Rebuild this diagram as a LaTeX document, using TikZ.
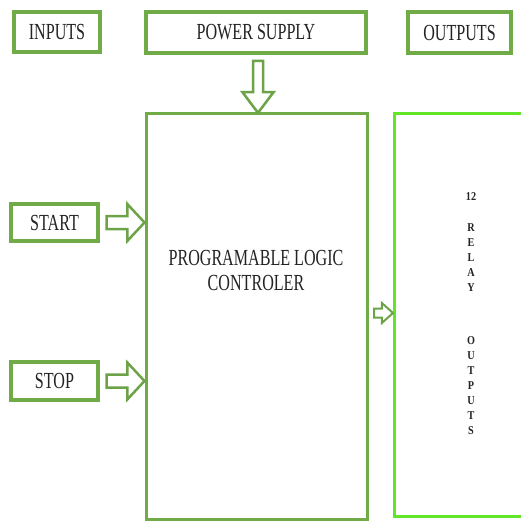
\documentclass[tikz,border=0pt]{standalone}
\usepackage{fontspec}
\setmainfont{Liberation Serif}
\newfontfamily\boxfont[FakeStretch=0.7]{Liberation Serif}
\newfontfamily\relayfont[FakeStretch=0.85]{Liberation Serif}
\usetikzlibrary{shapes.arrows,positioning}
\definecolor{boxgreen}{RGB}{112,171,72}
\definecolor{arrowgreen}{RGB}{108,163,72}
\definecolor{relaygreen}{RGB}{98,230,40}
\definecolor{labelgray}{RGB}{35,35,35}

\begin{document}
\begin{tikzpicture}[
    x=1pt, y=-1pt,
    box/.style={rectangle, draw=boxgreen, line width=4, fill=white, inner sep=0, align=center, text=labelgray, font=\boxfont\fontsize{23}{25}\selectfont},
    plcbox/.style={rectangle, draw=boxgreen, line width=3, inner sep=0},
    relaybox/.style={rectangle, draw=relaygreen, line width=3, inner sep=0},
    plctext/.style={align=center, inner sep=0, text=labelgray, font=\boxfont\fontsize{23}{25}\selectfont},
    relaytext/.style={align=center, inner sep=0, text=labelgray, font=\relayfont\bfseries\fontsize{12}{15}\selectfont},
    blockarrow/.style={single arrow, draw=arrowgreen, fill=white, line width=2.5, inner xsep=0}
]
\clip (0,0) rectangle (521,522);

% Top row
\node[box, minimum width=86, minimum height=40] (inputs) at (57,32) {INPUTS};
\node[box, minimum width=220, minimum height=41] (power) at (256,32.5) {POWER SUPPLY};
\node[box, minimum width=103, minimum height=41] (outputs) at (459.5,32.5) {OUTPUTS};

% Controller and relay block
\node[plcbox, minimum width=221, minimum height=406] (plc) at (257,316.5) {};
\node[plctext] (plclabel) at (256,270.5) {PROGRAMABLE LOGIC\\CONTROLER};
\node[relaybox, minimum width=145.5, minimum height=403] (relay) at (467.25,315) {};
\node[relaytext, anchor=north] (relaylabel) at (471,192.8) {12\\[16pt]R\\E\\L\\A\\Y\\[38pt]O\\U\\T\\P\\U\\T\\S};

% Input switches
\node[box, minimum width=87, minimum height=37] (start) at (54.5,222.5) {START};
\node[box, minimum width=87, minimum height=38] (stop) at (54.5,381) {STOP};

% Block arrows
\path ([xshift=2]power.south) -- ([xshift=2]power.south |- plc.north)
    node[midway, blockarrow, rotate=-90, inner ysep=3.75, minimum height=52, single arrow head extend=10.5, single arrow tip angle=74] (powerarrow) {};
\path (start.east) -- (start.east -| plc.west)
    node[midway, blockarrow, inner ysep=5.25, minimum height=38, single arrow head extend=12, single arrow tip angle=94] (startarrow) {};
\path (stop.east) -- (stop.east -| plc.west)
    node[midway, blockarrow, inner ysep=5.25, minimum height=38, single arrow head extend=12, single arrow tip angle=94] (stoparrow) {};
\path ([yshift=3.5]plc.east) -- ([yshift=3.5]plc.east -| relay.west)
    node[midway, blockarrow, line width=2, inner ysep=3.5, minimum height=19, single arrow head extend=5.5, single arrow tip angle=84] (relayarrow) {};

\end{tikzpicture}
\end{document}
